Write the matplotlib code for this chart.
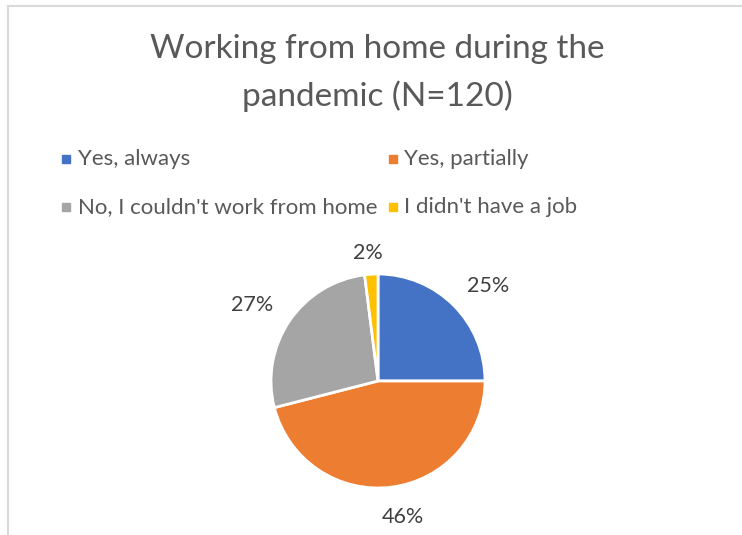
import matplotlib
matplotlib.use("Agg")
import matplotlib.pyplot as plt
from matplotlib.lines import Line2D
import numpy as np

plt.rcParams['font.family'] = ['Lato', 'DejaVu Sans']

categories = ["Yes, always", "Yes, partially", "No, I couldn't work from home", "I didn't have a job"]
shares = [25, 46, 27, 2]
pct_labels = ["25%", "46%", "27%", "2%"]
colors = ["#4472C4", "#ED7D31", "#A5A5A5", "#FFC000"]
title = "Working from home during the\npandemic (N=120)"

W, H = 742, 535
fig = plt.figure(figsize=(W / 100, H / 100), dpi=100)
fig.patch.set_facecolor("white")

# chart frame (top and left edges)
fig.add_artist(Line2D([8 / W, 8 / W], [0, 1 - 6 / H], transform=fig.transFigure,
                      color="#d9d9d9", lw=1.5))
fig.add_artist(Line2D([8 / W, 1], [1 - 6 / H, 1 - 6 / H], transform=fig.transFigure,
                      color="#d9d9d9", lw=1.5))

fig.text(377 / W, 1 - 73 / H, title, ha="center", va="center", fontsize=24,
         color="#595959", linespacing=1.65)

# pie
cx, cy, r = 378, 381, 107
ax = fig.add_axes([(cx - r) / W, (H - cy - r) / H, 2 * r / W, 2 * r / H])
wedges, _ = ax.pie(shares, colors=colors, startangle=90, counterclock=False,
                   wedgeprops=dict(edgecolor="white", linewidth=2))
ax.set_xlim(-1, 1)
ax.set_ylim(-1, 1)
ax.set_aspect("equal")
ax.axis("off")

label_dist = [1.36, 1.29, 1.37, 1.20]
label_turn = [-4, 3, 3, 1]
for w, txt, d, t in zip(wedges, pct_labels, label_dist, label_turn):
    ang = np.deg2rad((w.theta1 + w.theta2) / 2 + t)
    ax.text(d * np.cos(ang), d * np.sin(ang), txt, ha="center", va="center",
            fontsize=15.5, color="#404040", clip_on=False)

# legend in two columns
leg_rows = [(159, [(66, 78), (393, 404)]), (207, [(66, 78), (393, 404)])]
k = 0
for y, cols in leg_rows:
    for mx, tx in cols:
        fig.patches.append(plt.Rectangle(((mx - 4) / W, 1 - (y + 4) / H), 8 / W, 8 / H,
                                         transform=fig.transFigure, color=colors[k]))
        fig.text(tx / W, 1 - y / H, categories[k], ha="left", va="center",
                 fontsize=16, color="#595959")
        k += 1

fig.savefig("out.png", dpi=100)
